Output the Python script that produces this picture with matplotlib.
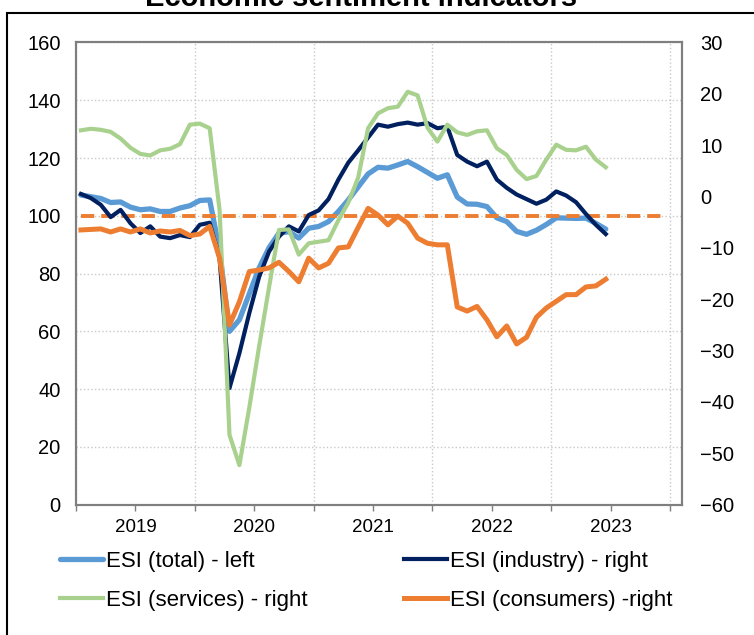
import numpy as np
import pandas as pd
from matplotlib import pyplot as plt
from matplotlib.patches import Rectangle

plt.rcParams['font.family'] = ['Liberation Sans', 'DejaVu Sans']

# monthly data, Jan 2019 - Jun 2023
months = pd.date_range('2019-01-01', '2023-06-01', freq='MS')
year_labels = ['2019', '2020', '2021', '2022', '2023']

esi_total = [107.2, 106.6, 106.0, 104.6, 104.8, 103.0, 102.1, 102.4, 101.5, 101.5, 102.7, 103.5,
             105.3, 105.5, 88.0, 60.0, 64.0, 73.0, 82.0, 89.0, 94.0, 94.5, 92.3, 95.7,
             96.3, 98.0, 101.5, 105.5, 110.0, 114.5, 116.8, 116.5, 117.6, 118.8, 117.0, 115.0,
             113.0, 114.2, 106.5, 104.1, 104.0, 103.2, 99.3, 98.0, 94.6, 93.6, 95.0, 97.0,
             99.3, 99.2, 99.1, 99.2, 97.4, 95.4]
esi_industry = [0.5, -0.3, -1.6, -4.0, -2.6, -5.2, -7.1, -5.8, -7.8, -8.1, -7.5, -7.9,
                -5.5, -5.1, -12.0, -37.3, -30.5, -22.7, -15.6, -10.7, -7.8, -5.8, -6.8, -3.6,
                -2.7, -0.5, 3.3, 6.6, 9.0, 11.5, 14.0, 13.6, 14.1, 14.4, 14.0, 14.3,
                13.3, 13.6, 8.1, 6.8, 5.9, 6.8, 3.3, 1.7, 0.4, -0.5, -1.4, -0.6,
                1.0, 0.2, -1.1, -3.4, -5.5, -7.3]
esi_services = [12.9, 13.2, 13.0, 12.6, 11.3, 9.5, 8.3, 8.0, 9.0, 9.3, 10.2, 14.0,
                14.2, 13.3, -2.6, -46.4, -52.3, -41.1, -29.1, -17.6, -6.5, -6.4, -11.3, -9.1,
                -8.8, -8.5, -4.6, -1.2, 3.7, 13.3, 16.2, 17.2, 17.5, 20.4, 19.7, 13.4,
                10.7, 14.0, 12.5, 12.0, 12.7, 12.9, 9.4, 8.1, 5.2, 3.4, 4.0, 7.2,
                10.1, 9.1, 9.0, 9.7, 7.2, 5.7]
esi_consumers = [-6.5, -6.4, -6.3, -6.9, -6.3, -6.9, -6.3, -7.1, -6.7, -6.9, -6.6, -7.6,
                 -7.3, -5.8, -12.0, -25.0, -20.5, -14.6, -14.3, -13.9, -12.8, -14.6, -16.6, -12.0,
                 -13.9, -13.0, -10.0, -9.8, -6.0, -2.3, -3.6, -5.5, -3.8, -5.2, -8.1, -9.1,
                 -9.4, -9.4, -21.5, -22.3, -21.4, -24.0, -27.3, -25.2, -28.7, -27.4, -23.5, -21.7,
                 -20.4, -19.1, -19.1, -17.6, -17.4, -16.1]
long_term_avg = 100  # left axis reference line

# x in months since Jan 2019, points in the middle of each month
x = np.arange(len(months)) + 0.5

fig = plt.figure(figsize=(7.54, 6.35), dpi=100)
ax = fig.add_axes([0.1008, 0.2052, 0.8037, 0.7279])
ax2 = ax.twinx()

line_total, = ax.plot(x, esi_total, color='#5B9BD5', lw=3.8, solid_capstyle='round',
                      label='ESI (total) - left')
ax.hlines(long_term_avg, 0.5, 59.6, color='#ED7D31', lw=2.8, linestyles=(0, (3.4, 1.8)))
line_ind, = ax2.plot(x, esi_industry, color='#002060', lw=3.0, label='ESI (industry) - right')
line_serv, = ax2.plot(x, esi_services, color='#A9D18E', lw=3.0, label='ESI (services) - right')
line_cons, = ax2.plot(x, esi_consumers, color='#ED7D31', lw=3.6, label='ESI (consumers) -right')

ax.set_xlim(0, 61.2)
ax.set_ylim(0, 160)
ax2.set_ylim(-60, 30)

# year boundaries carry the grid, mid-year ticks carry the labels
ax.set_xticks(np.arange(0, 61, 12))
ax.set_xticklabels([])
ax.set_xticks(np.arange(6, 55, 12), minor=True)
ax.set_xticklabels(year_labels, minor=True)
ax.tick_params(axis='x', which='both', length=4, width=1, color='#7F7F7F', labelsize=13.5, pad=6)

ax.set_yticks(range(0, 161, 20))
ax2.set_yticks(range(-60, 31, 10))
ax.tick_params(axis='y', length=0, labelsize=14.5, pad=11)
ax2.tick_params(axis='y', length=0, labelsize=14.5, pad=13)

ax.grid(True, which='major', color='#C8C8C8', linestyle=':', linewidth=1)
ax.set_axisbelow(True)

for a in (ax, ax2):
    for s in a.spines.values():
        s.set_color('#7F7F7F')
        s.set_linewidth(1.5)

fig.legend(handles=[line_total, line_serv, line_ind, line_cons], ncol=2, frameon=False,
           loc='upper left', bbox_to_anchor=(60 / 754, 1 - 551 / 635), borderpad=0,
           borderaxespad=0, fontsize=16, handlelength=1.95, handletextpad=0.14,
           columnspacing=4.3, labelspacing=0.82)

# outer frame and the (clipped) title
fig.add_artist(Rectangle((7 / 754, -0.2), 1.2, 1.2 - 13 / 635, transform=fig.transFigure,
                         fill=False, ec='black', lw=1.5))
fig.text(0.479, 1 - 6 / 635, 'Economic sentiment indicators', ha='center', va='baseline',
         fontsize=21, fontweight='bold')

plt.savefig('out.png', dpi=100)
